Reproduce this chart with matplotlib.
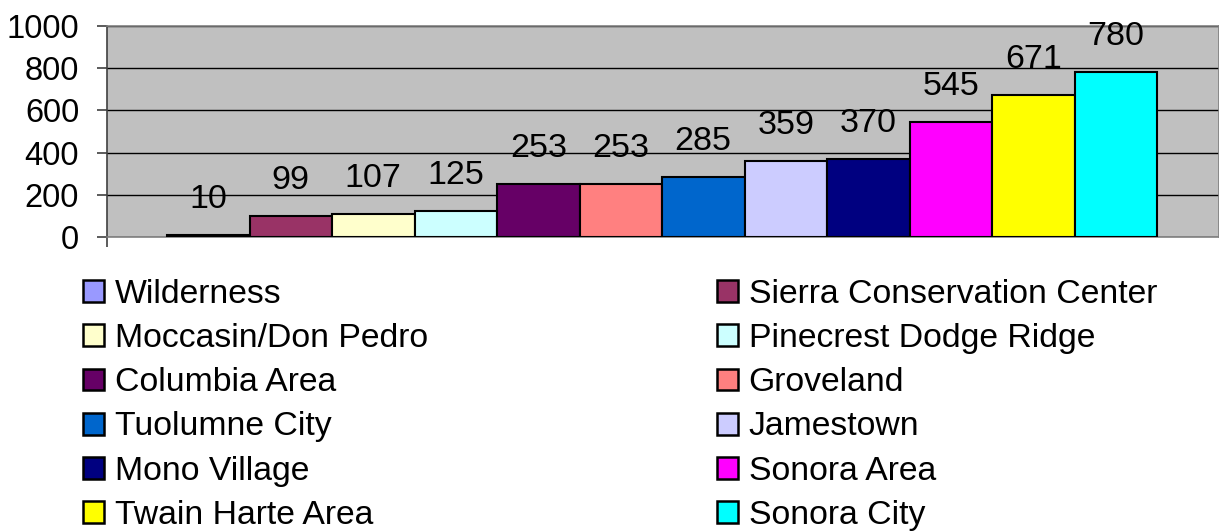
import matplotlib.pyplot as plt
from matplotlib.patches import Patch

plt.rcParams['font.family'] = ['Liberation Sans', 'DejaVu Sans']

areas = ["Wilderness", "Sierra Conservation Center", "Moccasin/Don Pedro",
         "Pinecrest Dodge Ridge", "Columbia Area", "Groveland",
         "Tuolumne City", "Jamestown", "Mono Village", "Sonora Area",
         "Twain Harte Area", "Sonora City"]
counts = [10, 99, 107, 125, 253, 253, 285, 359, 370, 545, 671, 780]
colors = ["#9999FF", "#993366", "#FFFFCC", "#CCFFFF", "#660066", "#FF8080",
          "#0066CC", "#CCCCFF", "#000080", "#FF00FF", "#FFFF00", "#00FFFF"]
yticks = [0, 200, 400, 600, 800, 1000]

fig = plt.figure(figsize=(12.19, 5.32), dpi=100)
ax = fig.add_axes([107 / 1219, 1 - 237 / 532, 1 - 107 / 1219, 211 / 532])
ax.set_facecolor("#C0C0C0")

pos = list(range(len(counts)))
ax.bar(pos, counts, width=1.0, color=colors, edgecolor="black", linewidth=1.5, zorder=3)
for x, v in zip(pos, counts):
    ax.annotate(str(v), (x, v), xytext=(0, 19.5), textcoords="offset points",
                ha="center", va="baseline", fontsize=24.5, zorder=4)

ax.set_ylim(0, 1000)
left = -0.5 - 60 / 82.5
ax.set_xlim(left, 11.5 + 62 / 82.5)
ax.set_yticks(yticks)
ax.set_yticklabels([str(t) for t in yticks], fontsize=23.5)
ax.yaxis.grid(True, color="black", linewidth=1)
ax.set_axisbelow(True)
ax.set_xticks([left])
ax.set_xticklabels([""])
ax.tick_params(axis="x", direction="out", length=7, width=1.2, color="#404040")
ax.tick_params(axis="y", direction="out", length=7, width=1.2, color="#404040", pad=13)
for s in ["top", "right"]:
    ax.spines[s].set_color("#808080")
    ax.spines[s].set_linewidth(1.2)
ax.spines["left"].set_color("#404040")
ax.spines["left"].set_linewidth(1.2)
ax.spines["bottom"].set_color("#808080")
ax.spines["bottom"].set_linewidth(1.2)

handles = [Patch(facecolor=c, edgecolor="black", linewidth=1.8) for c in colors]
leg_kw = dict(frameon=False, fontsize=24.3, handlelength=0.62, handleheight=0.62,
              handletextpad=0.32, labelspacing=0.39, borderpad=0, borderaxespad=0)
leg1 = fig.legend(handles[0::2], areas[0::2], loc="upper left",
                  bbox_to_anchor=(83 / 1219, 1 - 279 / 532), **leg_kw)
leg2 = fig.legend(handles[1::2], areas[1::2], loc="upper left",
                  bbox_to_anchor=(717 / 1219, 1 - 279 / 532), **leg_kw)

fig.savefig("out.png", dpi=100)
